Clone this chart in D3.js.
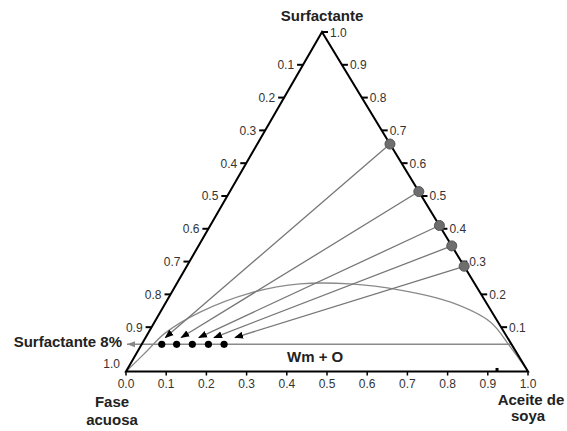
<!DOCTYPE html>
<html>
<head>
<meta charset="utf-8">
<script src="https://cdn.jsdelivr.net/npm/d3@7"></script>
<style>
  html, body { margin: 0; padding: 0; background: #fff; }
  svg { display: block; }
  text { font-family: "Liberation Sans", Arial, sans-serif; }
</style>
</head>
<body>
<svg id="chart" width="567" height="431"></svg>
<script>
// ---------- data ----------
const tickValues = [0.0, 0.1, 0.2, 0.3, 0.4, 0.5, 0.6, 0.7, 0.8, 0.9, 1.0];
const tickLabels = ["0.0","0.1","0.2","0.3","0.4","0.5","0.6","0.7","0.8","0.9","1.0"];

// initial surfactant/oil mixtures on the oil–surfactant edge (surfactant fraction)
const startSurfactant = [0.67, 0.53, 0.43, 0.37, 0.31];
// surfactant fraction at which the dilution lines end (arrow heads)
const arrowSurfactant = 0.10;
// 8 % surfactant line
const lineSurfactant = 0.08;
// black points on the 8 % line (oil fraction)
const dotOil = [0.050, 0.087, 0.126, 0.166, 0.205];
// phase boundary curve (oil fraction, surfactant fraction)
const curveOil = [0.000, 0.021, 0.042, 0.099, 0.196, 0.307, 0.432, 0.565, 0.706, 0.835, 0.919, 1.000];
const curveSurf = [0.000, 0.055, 0.113, 0.175, 0.231, 0.258, 0.258, 0.240, 0.205, 0.146, 0.074, 0.000];
// small isolated mark near the oil vertex
const extraOil = [0.92];
const extraSurf = [0.006];

// ---------- geometry ----------
const svg = d3.select("#chart");
const xL = 126, xR = 528, yB = 371.5, xA = 322, yA = 32;

const oilScale = d3.scaleLinear().domain([0, 1]).range([xL, xR]);   // bottom axis
const surfY = d3.scaleLinear().domain([0, 1]).range([yB, yA]);      // height
const surfX = d3.scaleLinear().domain([0, 1]).range([0, xA - xL]);  // horizontal shift
// placement of the printed side-axis ticks along the edges (fraction of edge from apex)
const sideTick = d3.scaleLinear().domain([0, 1]).range([0, 0.966]);

function P(o, s) { return [oilScale(o) + surfX(s), surfY(s)]; }
function alongEdge(from, to, t) { return [from[0] + t * (to[0] - from[0]), from[1] + t * (to[1] - from[1])]; }

const defs = svg.append("defs");
defs.append("marker")
  .attr("id", "arrBlack").attr("viewBox", "0 -4 9 8")
  .attr("refX", 8).attr("refY", 0)
  .attr("markerWidth", 9).attr("markerHeight", 8)
  .attr("markerUnits", "userSpaceOnUse").attr("orient", "auto")
  .append("path").attr("d", "M0,-3.5L9,0L0,3.5Z").attr("fill", "#000");
defs.append("marker")
  .attr("id", "arrGrey").attr("viewBox", "0 -4 9 8")
  .attr("refX", 8).attr("refY", 0)
  .attr("markerWidth", 9).attr("markerHeight", 8)
  .attr("markerUnits", "userSpaceOnUse").attr("orient", "auto")
  .append("path").attr("d", "M0,-3L8,0L0,3Z").attr("fill", "#888");

// ---------- phase boundary curve ----------
const curvePts = curveOil.map((o, i) => P(o, curveSurf[i]));
svg.append("path")
  .attr("d", d3.line().curve(d3.curveCatmullRom.alpha(0.5))(curvePts))
  .attr("fill", "none").attr("stroke", "#8a8a8a").attr("stroke-width", 1.3);

// ---------- 8% surfactant line ----------
const lineRight = P(1 - lineSurfactant, lineSurfactant);
svg.append("line")
  .attr("x1", lineRight[0]).attr("y1", lineRight[1])
  .attr("x2", oilScale(0) + 1).attr("y2", surfY(lineSurfactant))
  .attr("stroke", "#8a8a8a").attr("stroke-width", 1.5)
  .attr("marker-end", "url(#arrGrey)");

// ---------- dilution lines ----------
startSurfactant.forEach(S => {
  const a = P(1 - S, S);
  const endOil = arrowSurfactant * (1 - S) / S;
  const b = P(endOil, arrowSurfactant);
  svg.append("line")
    .attr("x1", a[0]).attr("y1", a[1]).attr("x2", b[0]).attr("y2", b[1])
    .attr("stroke", "#777").attr("stroke-width", 1.3)
    .attr("marker-end", "url(#arrBlack)");
});

// ---------- triangle ----------
const vWater = P(0, 0), vOil = P(1, 0), vSurf = P(0, 1);
svg.append("path")
  .attr("d", "M" + [vWater, vOil, vSurf].map(p => p.join(",")).join("L") + "Z")
  .attr("fill", "none").attr("stroke", "#000").attr("stroke-width", 2)
  .attr("stroke-linejoin", "miter");

// ---------- ticks ----------
const tickColor = "#000", labelColor = "#333";
// bottom axis (oil)
tickValues.forEach((v, i) => {
  const x = oilScale(v);
  svg.append("line").attr("x1", x).attr("x2", x).attr("y1", yB).attr("y2", yB + 4)
    .attr("stroke", tickColor).attr("stroke-width", 1.5);
  svg.append("text").attr("x", x).attr("y", yB + 16)
    .attr("text-anchor", "middle").attr("font-size", 12).attr("fill", labelColor)
    .text(tickLabels[i]);
});
// right edge (surfactant): 1.0 at apex
tickValues.forEach((v, i) => {
  if (v === 0) return;
  const p = alongEdge(vSurf, vOil, sideTick(1 - v));
  svg.append("line").attr("x1", p[0]).attr("x2", p[0] + 6).attr("y1", p[1]).attr("y2", p[1])
    .attr("stroke", tickColor).attr("stroke-width", 2);
  svg.append("text").attr("x", p[0] + 8).attr("y", p[1] + 4.5)
    .attr("font-size", 12).attr("fill", labelColor).text(tickLabels[i]);
});
// left edge (aqueous phase): 1.0 at the water vertex
tickValues.forEach((v, i) => {
  if (v === 0) return;
  if (v === 1) {
    svg.append("text").attr("x", vWater[0] - 6).attr("y", vWater[1] - 4)
      .attr("text-anchor", "end").attr("font-size", 12).attr("fill", labelColor)
      .text(tickLabels[i]);
    return;
  }
  const p = alongEdge(vSurf, vWater, sideTick(v));
  svg.append("line").attr("x1", p[0] - 6).attr("x2", p[0]).attr("y1", p[1]).attr("y2", p[1])
    .attr("stroke", tickColor).attr("stroke-width", 2);
  svg.append("text").attr("x", p[0] - 9).attr("y", p[1] + 4.5)
    .attr("text-anchor", "end").attr("font-size", 12).attr("fill", labelColor)
    .text(tickLabels[i]);
});

// ---------- points ----------
svg.selectAll("circle.start").data(startSurfactant).enter().append("circle")
  .attr("class", "start")
  .attr("cx", S => P(1 - S, S)[0]).attr("cy", S => P(1 - S, S)[1])
  .attr("r", 5).attr("fill", "#6e6e6e").attr("stroke", "#555").attr("stroke-width", 1);

svg.selectAll("circle.dot").data(dotOil).enter().append("circle")
  .attr("class", "dot")
  .attr("cx", o => P(o, lineSurfactant)[0]).attr("cy", o => P(o, lineSurfactant)[1])
  .attr("r", 3.6).attr("fill", "#000");

svg.selectAll("rect.extra").data(extraOil).enter().append("rect")
  .attr("class", "extra")
  .attr("x", (o, i) => P(o, extraSurf[i])[0] - 1.5).attr("y", (o, i) => P(o, extraSurf[i])[1] - 1.5)
  .attr("width", 3).attr("height", 3).attr("fill", "#000");

// ---------- labels ----------
const bold = { "font-weight": "bold", "font-size": 15, "fill": "#222" };
function label(x, y, txt, anchor) {
  const t = svg.append("text").attr("x", x).attr("y", y)
    .attr("text-anchor", anchor || "middle").text(txt);
  Object.entries(bold).forEach(([k, v]) => t.attr(k, v));
  return t;
}
label(xA, 21, "Surfactante");
label(112, 407, "Fase");
label(112, 425, "acuosa");
label(531, 405, "Aceite de");
label(528, 421, "soya");
label(xL - 4, surfY(lineSurfactant) + 3, "Surfactante 8%", "end");
label(287, 362, "Wm + O", "start");
</script>
</body>
</html>
